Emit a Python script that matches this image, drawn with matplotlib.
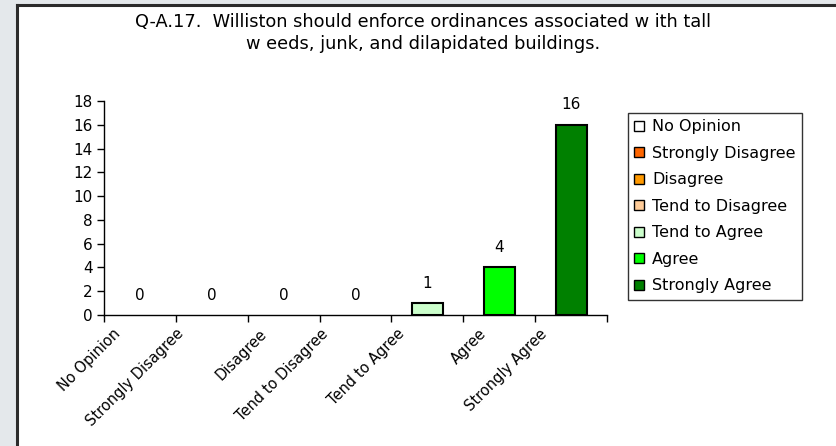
import numpy as np
import matplotlib.pyplot as plt
import matplotlib.transforms as mtransforms
from matplotlib.patches import Rectangle
from matplotlib.lines import Line2D

plt.rcParams['font.family'] = ['DejaVu Sans']
plt.rcParams['font.size'] = 11

# 数据
categories = ['No Opinion', 'Strongly Disagree', 'Disagree', 'Tend to Disagree',
              'Tend to Agree', 'Agree', 'Strongly Agree']
counts = [0, 0, 0, 0, 1, 4, 16]
colors = ['#FFFFFF', '#FF6600', '#FF9900', '#FFCC99', '#CCFFCC', '#00FF00', '#008000']
title = ('Q-A.17.  Williston should enforce ordinances associated w ith tall\n'
         'w eeds, junk, and dilapidated buildings.')

W, H = 837, 446
fig = plt.figure(figsize=(W / 100, H / 100), dpi=100)
fig.patch.set_facecolor('#E4E8EB')

# 白色面板 + 左上边框
fig.patches.append(Rectangle((17 / W, 0), 1 - 17 / W, 1 - 4 / H, transform=fig.transFigure,
                             facecolor='white', edgecolor='none', zorder=-1))
fig.lines.append(Line2D([17.5 / W, 17.5 / W], [0, 1 - 4.5 / H], transform=fig.transFigure,
                        color='#2b2b2b', lw=2.2, zorder=-0.5))
fig.lines.append(Line2D([17.5 / W, 1], [1 - 4.5 / H, 1 - 4.5 / H], transform=fig.transFigure,
                        color='#2b2b2b', lw=2.2, zorder=-0.5))

ax = fig.add_axes([104 / W, 1 - 315 / H, (607 - 104) / W, (315 - 101) / H])
ax.set_facecolor('none')

x = np.arange(len(categories))
bars = ax.bar(x, counts, width=0.43, color=colors, edgecolor='black', linewidth=1.5,
              zorder=3)

# 数值标签
for xi, v in zip(x, counts):
    ax.annotate(str(v), (xi, v), xytext=(0, 20), textcoords='offset pixels',
                ha='center', va='center', fontsize=11)

ax.set_xlim(-0.5, len(categories) - 0.5)
ax.set_ylim(0, 18)
ax.set_yticks(np.arange(0, 19, 2))

# 刻度在类别边界，标签在中心
ax.set_xticks(np.arange(-0.5, len(categories), 1))
ax.set_xticklabels([])
ax.set_xticks(x, minor=True)
ax.set_xticklabels(categories, minor=True, rotation=45, ha='right', va='top',
                   rotation_mode='anchor', fontsize=10.5)
ax.tick_params(axis='x', which='minor', length=0, pad=8)
ax.tick_params(axis='x', which='major', length=5, width=1, direction='out')
ax.tick_params(axis='y', length=5, width=1, direction='out', pad=3, labelsize=11)
# Excel 式的标签偏移：长标签更靠左
for lab in ax.get_xticklabels(minor=True):
    dx = -(14 + 1.3 * len(lab.get_text()))
    off = mtransforms.ScaledTranslation(dx / 100, 0, fig.dpi_scale_trans)
    lab.set_transform(lab.get_transform() + off)

for s in ['top', 'right']:
    ax.spines[s].set_visible(False)
ax.spines['left'].set_linewidth(1)
ax.spines['bottom'].set_linewidth(1)

fig.text(0.505, 1 - 33 / H, title, ha='center', va='center', fontsize=12.8,
         linespacing=1.25)

leg = fig.legend(bars, categories, loc='upper left',
                 bbox_to_anchor=(628 / W, 1 - 113 / H), fontsize=11.5,
                 frameon=True, fancybox=False, edgecolor='black',
                 handlelength=0.62, handleheight=0.62, handletextpad=0.5,
                 labelspacing=0.72, borderpad=0.4, borderaxespad=0)
leg.get_frame().set_linewidth(1)
for h in leg.legend_handles:
    h.set_linewidth(1)

# 数值为 0 的柱子在图中不可见
for b, v in zip(bars, counts):
    if v == 0:
        b.set_linewidth(0)

fig.savefig('out.png', dpi=100)
